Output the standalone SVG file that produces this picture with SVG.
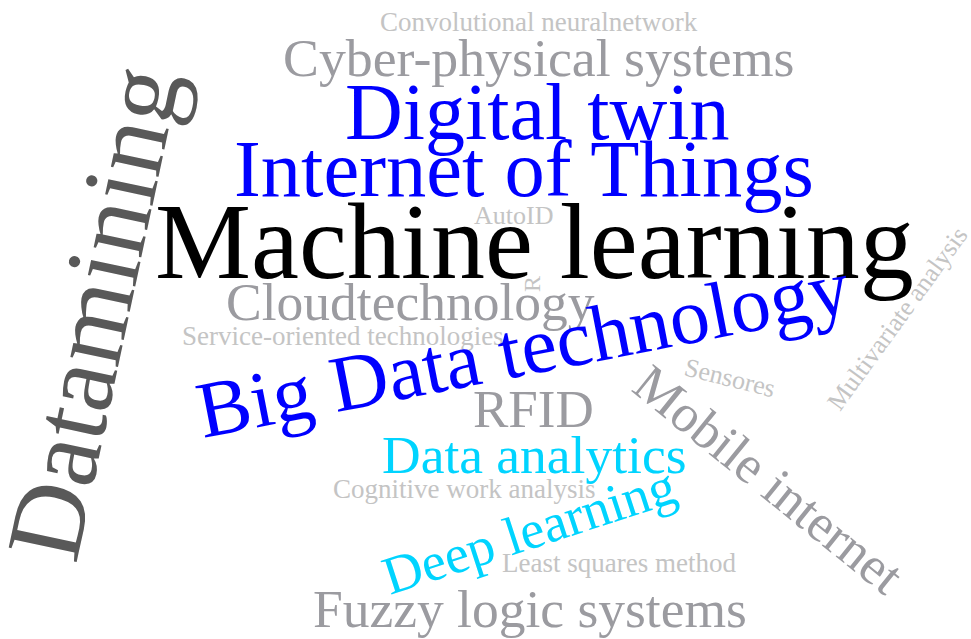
<svg xmlns="http://www.w3.org/2000/svg" width="971" height="639" viewBox="0 0 971 639">
<style>
text{font-family:"Liberation Serif","Times New Roman",serif;}
.k{fill:#000000;}
.b{fill:#0000ff;}
.c{fill:#00d4ff;}
.g{fill:#9b9ba0;}
.l{fill:#c4c4c4;}
.d{fill:#595959;}
</style>
<rect width="971" height="639" fill="#ffffff"/>
<g id="convolutional"><text class="l" x="380" y="31" font-size="27">Convolutional neuralnetwork</text></g>
<g id="cyber"><text class="g" x="283" y="76" font-size="53.8">Cyber-physical systems</text></g>
<g id="digitaltwin"><text class="b" x="345" y="139" font-size="80">Digital twin</text></g>
<g id="iot"><text class="b" x="234" y="196" font-size="80.5">Internet of Things</text></g>
<g id="autoid"><text class="l" x="474" y="224" font-size="26">AutoID</text></g>
<g id="machinelearning"><text class="k" x="155" y="278" font-size="108">Machine learning</text></g>
<g id="r"><text class="l" font-size="24" transform="translate(540,292) rotate(-90)">R</text></g>
<g id="cloud"><text class="g" x="226" y="320" font-size="53.5">Cloudtechnology</text></g>
<g id="service"><text class="l" x="182" y="345" font-size="27">Service-oriented technologies</text></g>
<g id="bigdata"><text class="b" font-size="80" transform="translate(203,438) rotate(-11)">Big Data technology</text></g>
<g id="rfid"><text class="g" x="473" y="427" font-size="53">RFID</text></g>
<g id="sensores"><text class="l" font-size="26" transform="translate(683,375) rotate(14)">Sensores</text></g>
<g id="multivariate"><text class="l" font-size="26" transform="translate(840,412) rotate(-54)">Multivariate analysis</text></g>
<g id="mobile"><text class="g" font-size="53" transform="translate(630,390) rotate(39)">Mobile internet</text></g>
<g id="dataanalytics"><text class="c" x="382" y="473" font-size="53.5">Data analytics</text></g>
<g id="cognitive"><text class="l" x="333" y="498" font-size="27">Cognitive work analysis</text></g>
<g id="deeplearning"><text class="c" font-size="54" transform="translate(390,595) rotate(-18)">Deep learning</text></g>
<g id="leastsquares"><text class="l" x="502" y="572" font-size="27">Least squares method</text></g>
<g id="fuzzy"><text class="g" x="313" y="627" font-size="53.5">Fuzzy logic systems</text></g>
<g id="datamining"><text class="d" font-size="106" transform="translate(76,565) rotate(-78)">Datamining</text></g>
</svg>
